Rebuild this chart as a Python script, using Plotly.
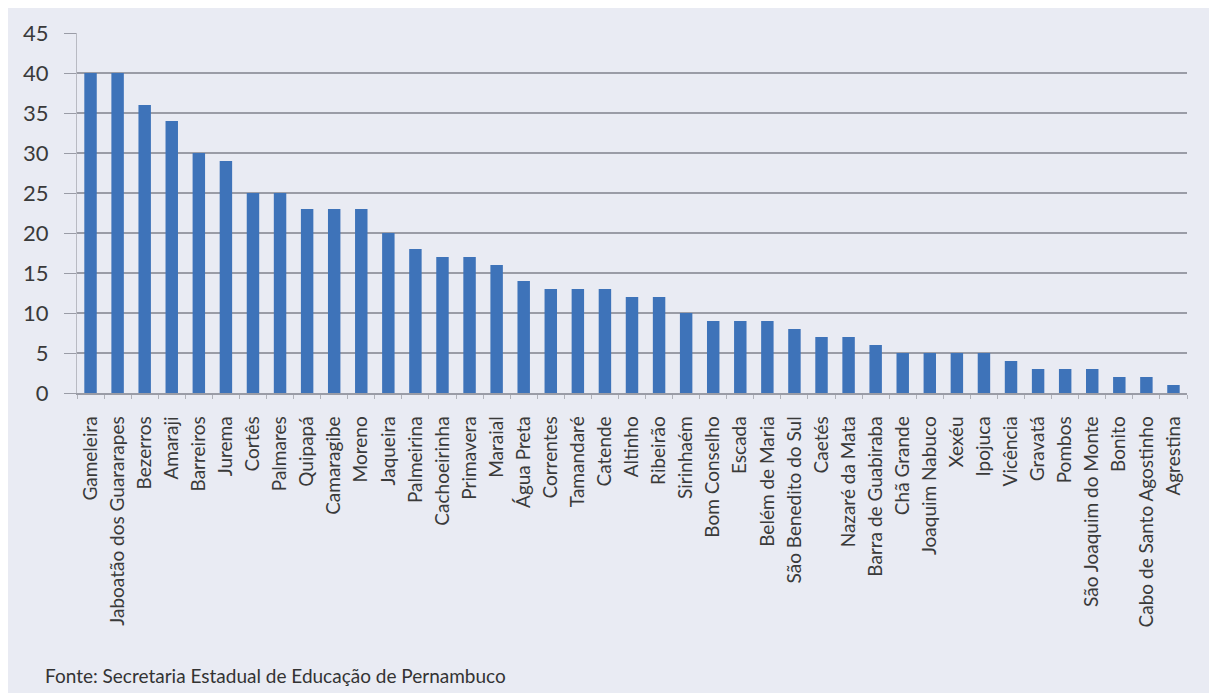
import plotly.graph_objects as go

municipios = [
    "Gameleira", "Jaboatão dos Guararapes", "Bezerros", "Amaraji", "Barreiros",
    "Jurema", "Cortês", "Palmares", "Quipapá", "Camaragibe", "Moreno", "Jaqueira",
    "Palmeirina", "Cachoeirinha", "Primavera", "Maraial", "Água Preta", "Correntes",
    "Tamandaré", "Catende", "Altinho", "Ribeirão", "Sirinhaém", "Bom Conselho",
    "Escada", "Belém de Maria", "São Benedito do Sul", "Caetés", "Nazaré da Mata",
    "Barra de Guabiraba", "Chã Grande", "Joaquim Nabuco", "Xexéu", "Ipojuca",
    "Vicência", "Gravatá", "Pombos", "São Joaquim do Monte", "Bonito",
    "Cabo de Santo Agostinho", "Agrestina",
]
valores = [40, 40, 36, 34, 30, 29, 25, 25, 23, 23, 23, 20, 18, 17, 17, 16, 14, 13,
           13, 13, 12, 12, 10, 9, 9, 9, 8, 7, 7, 6, 5, 5, 5, 5, 4, 3, 3, 3, 2, 2, 1]
y_ticks = [0, 5, 10, 15, 20, 25, 30, 35, 40, 45]
fonte = "Fonte: Secretaria Estadual de Educação de Pernambuco"

bg = "#E9EBF3"
fig = go.Figure(go.Bar(
    x=municipios, y=valores,
    marker=dict(color="#3E73B9", line=dict(width=0)),
    width=0.46,
))
fig.update_layout(
    width=1217, height=693,
    paper_bgcolor=bg, plot_bgcolor=bg,
    margin=dict(l=69, r=38, t=25, b=308),
    font=dict(family="Lato, Open Sans, sans-serif", color="#333333"),
    showlegend=False,
)
fig.update_yaxes(
    range=[0, 45], tickvals=y_ticks, ticktext=[str(v) for v in y_ticks],
    showgrid=True, gridcolor="#9A9CA6", gridwidth=1.5,
    zeroline=False, showline=True, linecolor="#B8BAC2", linewidth=1,
    ticks="outside", ticklen=12, tickcolor="#9A9CA6",
    tickfont=dict(size=22, color="#3a3a3a"),
    ticklabelstandoff=11,
)
fig.update_xaxes(
    tickangle=-90, tickfont=dict(size=19, color="#3a3a3a"),
    showline=True, linecolor="#9A9CA6", linewidth=1.5,
    ticks="outside", ticklen=4, tickcolor="#B0B2BA", tickson="boundaries",
    showgrid=False, automargin=False, ticklabelstandoff=14,
)
fig.add_annotation(
    text=fonte, xref="paper", yref="paper", x=-0.031, y=-0.785,
    xanchor="left", yanchor="middle", showarrow=False,
    font=dict(size=19, color="#333333"),
)
fig.write_html("out.html")
